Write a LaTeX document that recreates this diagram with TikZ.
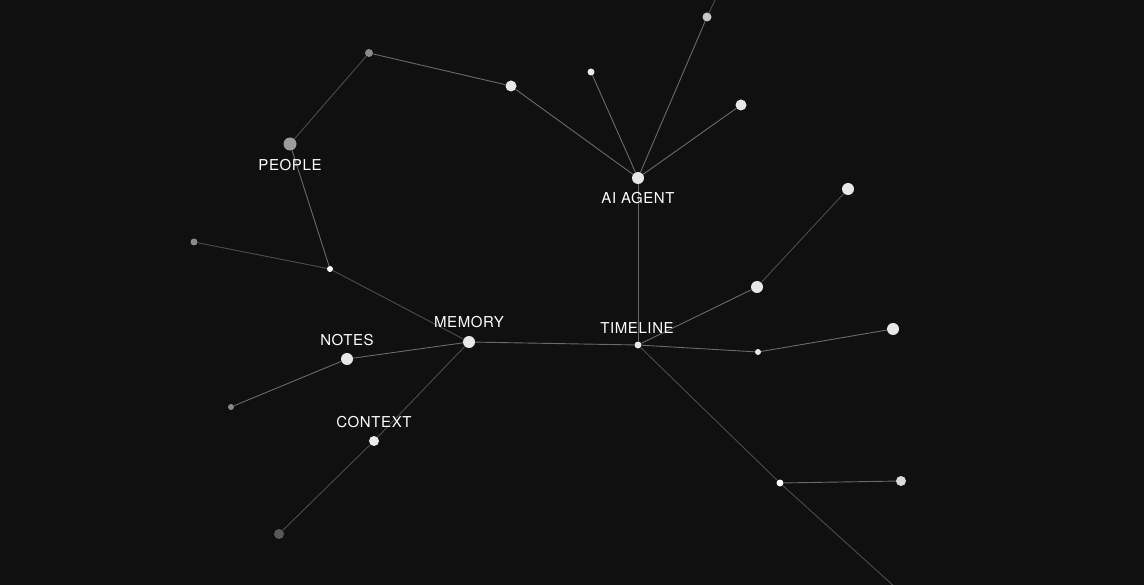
\documentclass[tikz,border=0pt]{standalone}
\usepackage{fontspec}
\setmainfont{TeX Gyre Heros}
\newfontfamily\lblfont[LetterSpace=4]{TeX Gyre Heros}
\definecolor{bg}{HTML}{101010}
\definecolor{wh}{HTML}{E8E8E8}
\definecolor{edgedark}{HTML}{4C4C4C}
\definecolor{edgelight}{HTML}{6A6A6A}
\definecolor{gdotc}{HTML}{8A8A8A}
\definecolor{peoplec}{HTML}{9C9C9C}
\begin{document}
\begin{tikzpicture}[x=1pt,y=-1pt,
  dot/.style={circle,inner sep=0pt,minimum size=#1,fill=wh,draw=none},
  gdot/.style={circle,inner sep=0pt,minimum size=#1,fill=gdotc,draw=none},
  lbl/.style={text=white,font=\lblfont\fontsize{15}{18}\selectfont,inner sep=0pt},
  edg/.style={draw=edgedark,line width=0.9pt},
  edgb/.style={draw=edgelight,line width=0.9pt}]
\fill[bg] (0,0) rectangle (1144,585);
\useasboundingbox (0,0) rectangle (1144,585);
% nodes
\node[gdot=8pt] (a1) at (369,53) {};
\node[dot=11pt] (b) at (511,86) {};
\node[circle,inner sep=0pt,minimum size=13pt,fill=peoplec] (people) at (290,144) {};
\node[dot=6pt,fill=white] (p2) at (330,269) {};
\node[gdot=7pt] (p3) at (194,242) {};
\node[dot=12pt] (memory) at (469,342) {};
\node[dot=12pt] (notes) at (347,359) {};
\node[gdot=6pt] (n2) at (231,407) {};
\node[dot=10pt,fill=white!85!gray] (context) at (374,441) {};
\node[circle,inner sep=0pt,minimum size=10pt,fill=gray!70!black] (c2) at (279,534) {};
\node[dot=7pt] (timeline) at (638,345) {};
\node[dot=12pt] (agent) at (638,178) {};
\node[dot=7pt] (g1) at (591,72) {};
\node[circle,inner sep=0pt,minimum size=9pt,fill=white!55!gray] (g2) at (707,17) {};
\node[dot=11pt] (g3) at (741,105) {};
\node[dot=12pt] (t1) at (757,287) {};
\node[dot=12pt] (t1a) at (848,189) {};
\node[dot=6pt] (t2) at (758,352) {};
\node[dot=12pt] (t2a) at (893,329) {};
\node[dot=7pt,fill=white] (t3) at (780,483) {};
\node[circle,inner sep=0pt,minimum size=10pt,fill=white!70!gray] (t3a) at (901,481) {};
\coordinate (offtop) at (716,-2);
\coordinate (offbot) at (896,588);
% edges
\draw[edg] (a1) -- (people);
\draw[edgb] (a1) -- (b);
\draw[edgb] (b) -- (agent);
\draw[edgb] (g1) -- (agent);
\draw[edgb] (g2) -- (agent);
\draw[edg] (g2) -- (offtop);
\draw[edgb] (g3) -- (agent);
\draw[edgb] (agent) -- (timeline);
\draw[edgb] (people) -- (p2);
\draw[edg] (p3) -- (p2);
\draw[edg] (p2) -- (memory);
\draw[edgb] (memory) -- (notes);
\draw[edgb] (notes) -- (n2);
\draw[edg] (memory) -- (context);
\draw[edg] (context) -- (c2);
\draw[edgb] (memory) -- (timeline);
\draw[edgb] (timeline) -- (t1);
\draw[edg] (t1) -- (t1a);
\draw[edgb] (timeline) -- (t2);
\draw[edgb] (t2) -- (t2a);
\draw[edg] (timeline) -- (t3);
\draw[edg] (t3) -- (offbot);
\draw[edgb] (t3) -- (t3a);
% labels
\node[lbl] (lpeople) at (290,165) {PEOPLE};
\node[lbl] (lmemory) at (469,322) {MEMORY};
\node[lbl] (lnotes) at (347,340) {NOTES};
\node[lbl] (lcontext) at (374,422) {CONTEXT};
\node[lbl] (ltimeline) at (637,328) {TIMELINE};
\node[lbl] (lagent) at (638,198) {AI AGENT};
\end{tikzpicture}
\end{document}
